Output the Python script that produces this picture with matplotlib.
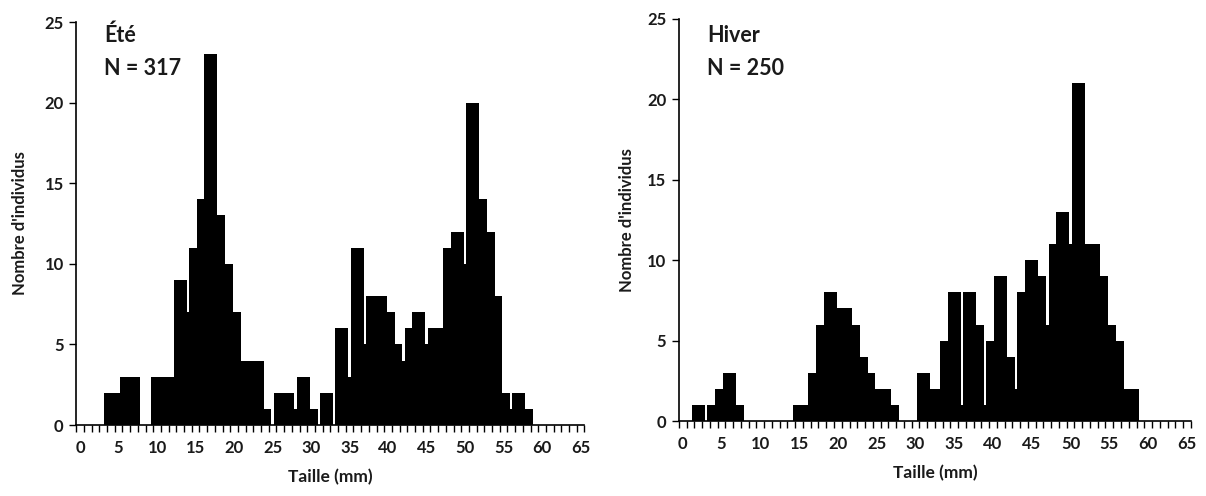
import numpy as np
import matplotlib
matplotlib.use("Agg")
import matplotlib.pyplot as plt

# Effectifs par classe de taille (mm)
tailles = np.arange(0, 66)

ete_classes = [4, 5, 6, 7, 10, 11, 12, 13, 14, 15, 16, 17, 18, 19, 20, 21, 22, 23, 24,
               26, 27, 28, 29, 30, 32, 34, 35, 36, 37, 38, 39, 40, 41, 42, 43, 44, 45,
               46, 47, 48, 49, 50, 51, 52, 53, 54, 55, 56, 57, 58]
ete_effectifs = [2, 2, 3, 3, 3, 3, 3, 9, 7, 11, 14, 23, 13, 10, 7, 4, 4, 4, 1,
                 2, 2, 1, 3, 1, 2, 6, 3, 11, 5, 8, 8, 7, 5, 4, 6, 7, 5,
                 6, 6, 11, 12, 10, 20, 14, 12, 8, 2, 1, 2, 1]

hiver_classes = [2, 4, 5, 6, 7, 15, 16, 17, 18, 19, 20, 21, 22, 23, 24, 25, 26, 27,
                 31, 32, 33, 34, 35, 36, 37, 38, 39, 40, 41, 42, 43, 44, 45, 46, 47,
                 48, 49, 50, 51, 52, 53, 54, 55, 56, 57, 58]
hiver_effectifs = [1, 1, 2, 3, 1, 1, 1, 3, 6, 8, 7, 7, 6, 4, 3, 2, 2, 1,
                   3, 2, 2, 5, 8, 1, 8, 6, 1, 5, 9, 4, 2, 8, 10, 9, 6,
                   11, 13, 11, 21, 11, 11, 9, 6, 5, 2, 2]

panneaux = [
    ("Été", "N = 317", ete_classes, ete_effectifs),
    ("Hiver", "N = 250", hiver_classes, hiver_effectifs),
]

plt.rcParams["font.family"] = ["Lato", "DejaVu Sans"]
plt.rcParams["font.weight"] = "bold"
txt = "#1a1a1a"

fig = plt.figure(figsize=(12.06, 4.96), dpi=100)
positions = [
    [0.0632, 0.1431, 0.4214, 0.8125],
    [0.5629, 0.1512, 0.4245, 0.8105],
]
text_y = [(0.950, 0.868), (0.943, 0.861)]
ylabel_pads = [12, 9]

for (saison, n_txt, classes, effectifs), pos, (y1, y2), ypad in zip(
        panneaux, positions, text_y, ylabel_pads):
    ax = fig.add_axes(pos)
    counts = np.zeros(len(tailles))
    counts[classes] = effectifs
    ax.bar(tailles, counts, width=1.69, color="black", linewidth=0)

    ax.set_xlim(-0.5, 65.5)
    ax.set_ylim(0, 25)
    for s in ["top", "right"]:
        ax.spines[s].set_visible(False)
    for s in ["left", "bottom"]:
        ax.spines[s].set_linewidth(1.2)
        ax.spines[s].set_color("black")

    ax.set_xticks(np.arange(0, 66, 5))
    ax.set_xticks(np.arange(-0.5, 66, 1), minor=True)
    ax.tick_params(axis="x", which="major", length=0, pad=11, labelsize=12, labelcolor=txt)
    ax.tick_params(axis="x", which="minor", length=5, width=1, direction="out")
    ax.set_yticks(np.arange(0, 26, 5))
    ax.tick_params(axis="y", length=5, width=1, direction="out", pad=4,
                   labelsize=12, labelcolor=txt)
    for lab in ax.get_xticklabels() + ax.get_yticklabels():
        lab.set_fontweight("bold")

    ax.set_xlabel("Taille (mm)", fontsize=12.5, fontweight="bold", color=txt, labelpad=9)
    ax.set_ylabel("Nombre d'individus", fontsize=12, fontweight="bold", color=txt,
                  labelpad=ypad)

    ax.text(0.055, y1, saison, transform=ax.transAxes, fontsize=15.5,
            fontweight="bold", color=txt, va="baseline")
    ax.text(0.055, y2, n_txt, transform=ax.transAxes, fontsize=15.5,
            fontweight="bold", color=txt, va="baseline")

fig.savefig("out.png", dpi=100)
